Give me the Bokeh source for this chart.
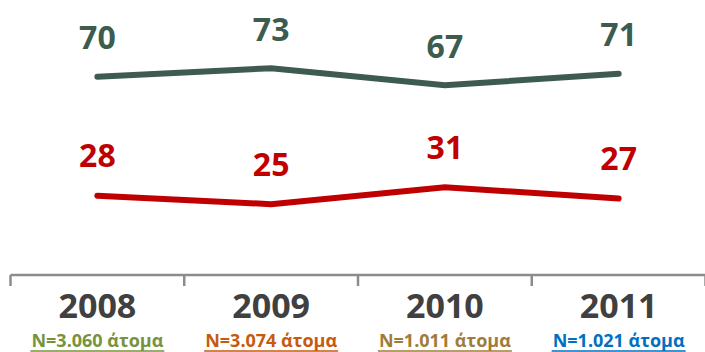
from bokeh.plotting import figure
from bokeh.models import Range1d, ColumnDataSource
from bokeh.embed import file_html
from bokeh.resources import INLINE
from bokeh.core.properties import value
import math

years = ["2008", "2009", "2010", "2011"]
series_a = [70, 73, 67, 71]
series_b = [28, 25, 31, 27]
n_labels = ["N=3.060 άτομα", "N=3.074 άτομα", "N=1.011 άτομα", "N=1.021 άτομα"]
n_colors = ["#77933C", "#C55A11", "#A07C3A", "#0070C0"]

GREEN = "#3D5B4F"
RED = "#C00000"
FONT = "Open Sans"

W, H = 705, 352
px_per_unit = 2.833
zero_px = 274.5  # frame pixel row of value 0

p = figure(width=W, height=H, output_backend="svg", toolbar_location=None,
           x_axis_type=None, y_axis_type=None, min_border=0,
           x_range=Range1d(-10 / 173.75, 4.0),
           y_range=Range1d(-(H - zero_px) / px_per_unit, zero_px / px_per_unit))
p.outline_line_color = None
p.grid.visible = False
p.background_fill_color = "white"
p.border_fill_color = "white"

xs = [i + 0.5 for i in range(len(years))]

# axis line and category boundary ticks
n = len(years)
p.segment(x0=[0], x1=[n], y0=[0], y1=[0], line_color="#8C8C8C", line_width=2.5)
p.ray(x=list(range(n + 1)), y=[0] * (n + 1), length=11, length_units="screen",
      angle=-math.pi / 2, line_color="#8C8C8C", line_width=2.5)

# lines
p.line(xs, series_a, line_color=GREEN, line_width=6, line_cap="round", line_join="miter")
p.line(xs, series_b, line_color=RED, line_width=6, line_cap="round", line_join="miter")

# value labels
p.text(xs, series_a, text=[str(v) for v in series_a], text_color=GREEN,
       text_font=value(FONT), text_font_style="bold", text_font_size="32px",
       text_align="center", text_baseline="middle", y_offset=-39)
p.text(xs, series_b, text=[str(v) for v in series_b], text_color=RED,
       text_font=value(FONT), text_font_style="bold", text_font_size="32px",
       text_align="center", text_baseline="middle", y_offset=-40)

# year labels
p.text(xs, [0] * n, text=years, text_color="#404040",
       text_font=value(FONT), text_font_style="bold", text_font_size="34px",
       text_align="center", text_baseline="middle", y_offset=31)

# N labels with underline
src = ColumnDataSource(dict(x=xs, y=[0] * n, t=n_labels, c=n_colors))
p.text("x", "y", text="t", text_color="c", source=src,
       text_font=value(FONT), text_font_style="bold", text_font_size="18px",
       text_align="center", text_baseline="middle", y_offset=65)
p.rect(xs, [-76 / px_per_unit] * n, width=134, height=1.6,
       width_units="screen", height_units="screen", fill_color=n_colors,
       line_color=None)

open("out.html", "w").write(file_html(p, INLINE))
